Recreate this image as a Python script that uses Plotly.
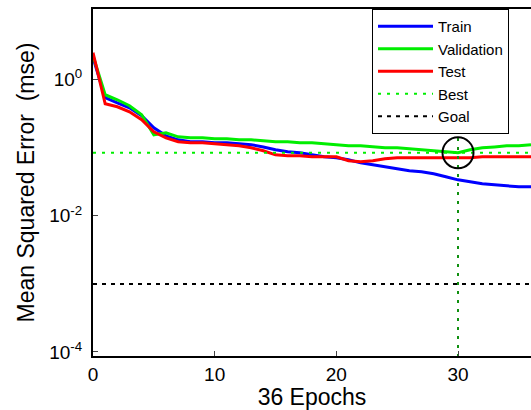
import plotly.graph_objects as go

epochs = list(range(0, 37))
train = [2.11, 0.544, 0.459, 0.388, 0.296, 0.197, 0.150, 0.131, 0.123, 0.123,
         0.119, 0.119, 0.115, 0.111, 0.103, 0.0935, 0.0873, 0.0844, 0.0789, 0.0737,
         0.0713, 0.0666, 0.0601, 0.0562, 0.0526, 0.0491, 0.0459, 0.0444, 0.0415, 0.0375,
         0.0338, 0.0316, 0.0296, 0.0286, 0.0276, 0.0267, 0.0267]
validation = [2.25, 0.602, 0.508, 0.415, 0.306, 0.155, 0.166, 0.145, 0.140, 0.140,
              0.136, 0.136, 0.131, 0.131, 0.127, 0.123, 0.123, 0.119, 0.119, 0.115,
              0.111, 0.107, 0.107, 0.103, 0.100, 0.100, 0.0967, 0.0935, 0.0904, 0.0873,
              0.0844, 0.0935, 0.100, 0.103, 0.107, 0.107, 0.111]
test = [2.50, 0.444, 0.401, 0.338, 0.258, 0.172, 0.140, 0.123, 0.119, 0.119,
        0.115, 0.111, 0.107, 0.100, 0.0904, 0.0789, 0.0762, 0.0762, 0.0737, 0.0737,
        0.0737, 0.0644, 0.0622, 0.0644, 0.0689, 0.0713, 0.0713, 0.0713, 0.0713, 0.0713,
        0.0713, 0.0713, 0.0737, 0.0737, 0.0737, 0.0737, 0.0737]
best_epoch = 30
best_value = 0.0844
goal = 0.001
x_range = [0, 36]
y_ticks = [1e-4, 1e-2, 1e0]
y_ticktext = ["10<sup>-4</sup>", "10<sup>-2</sup>", "10<sup>0</sup>"]
x_ticks = [0, 10, 20, 30]

FONT = "Liberation Sans, Arial, sans-serif"
GREEN = "#00ee00"

fig = go.Figure()
fig.add_trace(go.Scatter(x=epochs, y=train, mode="lines", name="Train",
                         line=dict(color="#0000ff", width=3)))
fig.add_trace(go.Scatter(x=epochs, y=validation, mode="lines", name="Validation",
                         line=dict(color=GREEN, width=3)))
fig.add_trace(go.Scatter(x=epochs, y=test, mode="lines", name="Test",
                         line=dict(color="#ff0000", width=3)))
fig.add_trace(go.Scatter(x=x_range, y=[best_value, best_value], mode="lines", name="Best",
                         line=dict(color=GREEN, width=2, dash="3px,6px")))
fig.add_trace(go.Scatter(x=[best_epoch, best_epoch], y=[1e-5, 1e2], mode="lines",
                         showlegend=False, line=dict(color="#109010", width=2, dash="3px,6px")))
fig.add_trace(go.Scatter(x=x_range, y=[goal, goal], mode="lines", name="Goal",
                         line=dict(color="black", width=2, dash="4px,5px")))
fig.add_trace(go.Scatter(x=[best_epoch], y=[best_value], mode="markers", showlegend=False,
                         marker=dict(symbol="circle-open", size=31, color="black",
                                     line=dict(width=2, color="black"))))

fig.update_layout(
    width=531, height=410,
    margin=dict(l=93, r=0, t=9, b=54, autoexpand=False),
    plot_bgcolor="white", paper_bgcolor="white",
    font=dict(family=FONT, size=19, color="black"),
    showlegend=True,
    legend=dict(x=0.637, y=1.0, xanchor="left", yanchor="top",
                bgcolor="white", bordercolor="black", borderwidth=1,
                font=dict(size=15), itemwidth=55, tracegroupgap=0),
)
fig.update_xaxes(range=x_range, tickvals=x_ticks, ticks="inside", ticklen=5,
                 showline=True, linecolor="black", linewidth=2, mirror=True,
                 showgrid=False, zeroline=False, automargin=False,
                 title=dict(text="36 Epochs", standoff=4),
                 tickfont=dict(size=19))
fig.update_yaxes(type="log", range=[-4.06, 1.04], tickvals=y_ticks, ticktext=y_ticktext,
                 ticks="inside", ticklen=5, automargin=False, ticklabelstandoff=5,
                 showline=True, linecolor="black", linewidth=2, mirror=True,
                 showgrid=False, zeroline=False,
                 title=dict(text="Mean Squared Error  (mse)", standoff=8),
                 tickfont=dict(size=19))

fig.write_html("out.html", config={"displayModeBar": False},
               post_script="document.body.style.margin='0';document.body.style.overflow='hidden';")
